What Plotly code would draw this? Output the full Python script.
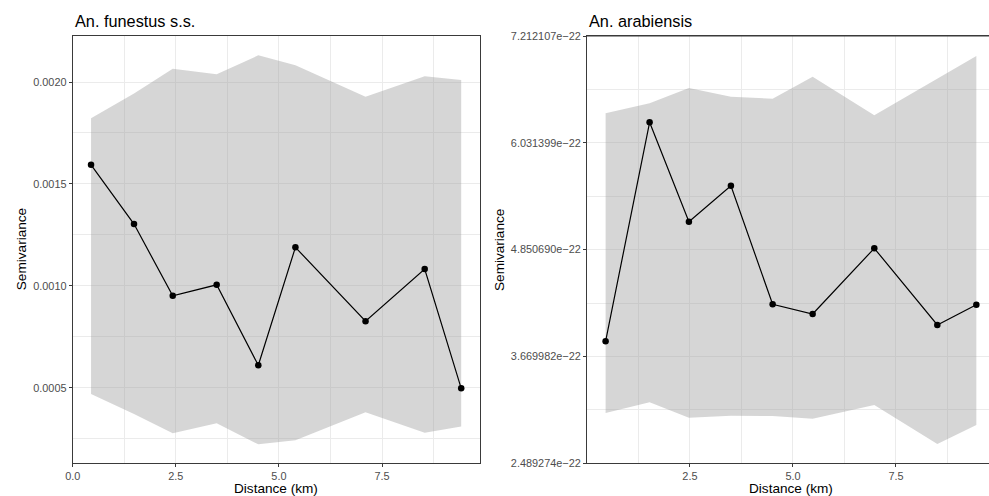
import plotly.graph_objects as go

# ---- data ----
fun_dist = [0.444, 1.486, 2.425, 3.49, 4.50, 5.40, 7.10, 8.535, 9.42]
fun_semiv = [0.001594, 0.001303, 0.000951, 0.001005, 0.000610, 0.001189, 0.000826, 0.001082, 0.000497]
fun_upper = [0.001822, 0.001944, 0.002065, 0.002038, 0.002131, 0.002082, 0.001928, 0.002029, 0.002010]
fun_lower = [0.000469, 0.000371, 0.000276, 0.000325, 0.000222, 0.000242, 0.000379, 0.000279, 0.000309]

ara_dist = [0.454, 1.522, 2.476, 3.495, 4.507, 5.478, 6.974, 8.503, 9.45]
ara_semiv = [3.8377e-22, 6.258e-22, 5.1597e-22, 5.5576e-22, 4.2467e-22, 4.1395e-22, 4.8657e-22, 4.0179e-22, 4.2423e-22]
ara_upper = [6.3578e-22, 6.4683e-22, 6.6373e-22, 6.5413e-22, 6.5191e-22, 6.7623e-22, 6.3355e-22, 6.7400e-22, 6.9911e-22]
ara_lower = [3.0453e-22, 3.1635e-22, 2.9933e-22, 3.0154e-22, 3.0121e-22, 2.9822e-22, 3.1337e-22, 2.7026e-22, 2.9126e-22]

ara_ytickvals = [2.489274e-22, 3.669982e-22, 4.850690e-22, 6.031399e-22, 7.212107e-22]
ara_yticktext = ["2.489274e\u221222", "3.669982e\u221222", "4.850690e\u221222", "6.031399e\u221222", "7.212107e\u221222"]
x_tickvals = [2.5, 5.0, 7.5]
x_ticktext = ["2.5", "5.0", "7.5"]

titles = ["An. funestus s.s.", "An. arabiensis"]
xlab = "Distance (km)"
ylab = "Semivariance"

W, H = 989, 496
FONT = "Liberation Sans, Arial, Helvetica, sans-serif"
RIBBON = "rgba(153,153,153,0.4)"
GRID = "#EBEBEB"
BORDER = "#3a3a3a"

fig = go.Figure()

def add_panel(x, y, lo, hi, xa, ya):
    fig.add_trace(go.Scatter(x=x, y=lo, mode="lines", line=dict(width=0, color=RIBBON),
                             xaxis=xa, yaxis=ya, showlegend=False, hoverinfo="skip"))
    fig.add_trace(go.Scatter(x=x, y=hi, mode="lines", line=dict(width=0, color=RIBBON),
                             fill="tonexty", fillcolor=RIBBON,
                             xaxis=xa, yaxis=ya, showlegend=False, hoverinfo="skip"))
    fig.add_trace(go.Scatter(x=x, y=y, mode="lines+markers",
                             line=dict(color="black", width=1.2),
                             marker=dict(color="black", size=6.5),
                             xaxis=xa, yaxis=ya, showlegend=False))

add_panel(fun_dist, fun_semiv, fun_lower, fun_upper, "x", "y")
add_panel(ara_dist, ara_semiv, ara_lower, ara_upper, "x2", "y2")

def px_x(p):
    return p / W

def px_y(p):
    return 1 - p / H

ydom = [px_y(463.3), px_y(36)]

common_axis = dict(
    automargin=False,
    showgrid=True, gridcolor=GRID, gridwidth=1.07,
    showline=True, linecolor=BORDER, linewidth=1,
    ticks="outside", ticklen=3, tickwidth=1, tickcolor=BORDER,
    tickfont=dict(family=FONT, size=10.9, color="#4D4D4D"),
    zeroline=False,
)

fig.update_layout(
    width=W, height=H, autosize=False,
    margin=dict(l=0, r=0, t=0, b=0, pad=0),
    paper_bgcolor="white", plot_bgcolor="white",
    font=dict(family=FONT),
    xaxis=dict(domain=[px_x(72.7), px_x(480)], range=[-0.001, 9.876], anchor="y",
               tickmode="linear", tick0=0, dtick=2.5, tickformat=".1f", mirror=True,
               minor=dict(dtick=1.25, tick0=0, showgrid=True, gridcolor=GRID, gridwidth=0.55, ticks=""),
               **common_axis),
    yaxis=dict(domain=ydom, range=[0.000129, 0.002226], anchor="x",
               tickmode="linear", tick0=0, dtick=0.0005, tickformat=".4f", mirror=True,
               minor=dict(dtick=0.00025, tick0=0, showgrid=True, gridcolor=GRID, gridwidth=0.55, ticks=""),
               **common_axis),
    xaxis2=dict(domain=[px_x(587), 1.0], range=[0.003, 9.757], anchor="y2",
                tickmode="array", tickvals=x_tickvals, ticktext=x_ticktext, mirror=True,
                minor=dict(tickmode="array", tickvals=[1.25, 3.75, 6.25, 8.75], showgrid=True,
                           gridcolor=GRID, gridwidth=0.55, ticks=""),
                **common_axis),
    yaxis2=dict(domain=ydom, range=[ara_ytickvals[0], ara_ytickvals[-1]], anchor="x2",
                tickmode="array", tickvals=ara_ytickvals, ticktext=ara_yticktext, mirror=False,
                minor=dict(tickmode="array",
                           tickvals=[(ara_ytickvals[i] + ara_ytickvals[i + 1]) / 2 for i in range(4)],
                           showgrid=True, gridcolor=GRID, gridwidth=0.55, ticks=""),
                **common_axis),
)

# top border for right panel (no right border visible in reference)
fig.add_shape(type="line", xref="paper", yref="paper",
              x0=px_x(587), x1=1.0, y0=px_y(36), y1=px_y(36),
              line=dict(color=BORDER, width=1))

ann = []
ann.append(dict(text=titles[0], x=px_x(72.7), y=px_y(21), xanchor="left", yanchor="middle"))
ann.append(dict(text=titles[1], x=px_x(586.7), y=px_y(21), xanchor="left", yanchor="middle"))
for a in ann:
    a.update(xref="paper", yref="paper", showarrow=False, font=dict(family=FONT, size=16.3, color="black"))

axis_ann = [
    dict(text=xlab, x=px_x(276.4), y=px_y(488.5)),
    dict(text=xlab, x=px_x(790.5), y=px_y(488.5)),
    dict(text=ylab, x=px_x(21.5), y=px_y(249.7), textangle=-90),
    dict(text=ylab, x=px_x(499.3), y=px_y(249.7), textangle=-90),
]
for a in axis_ann:
    a.update(xref="paper", yref="paper", showarrow=False, xanchor="center", yanchor="middle",
             font=dict(family=FONT, size=13.6, color="black"))

fig.update_layout(annotations=ann + axis_ann)

fig.write_html("out.html")
